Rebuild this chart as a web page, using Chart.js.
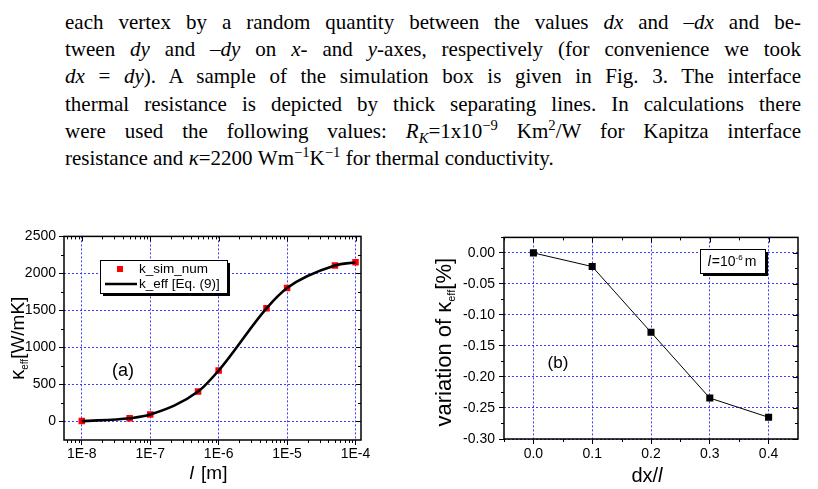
<!DOCTYPE html>
<html>
<head>
<meta charset="utf-8">
<script src="https://cdn.jsdelivr.net/npm/chart.js@4"></script>
<style>
  html, body { margin: 0; padding: 0; background: #fff; }
  body { width: 818px; height: 489px; position: relative; overflow: hidden; }
  #para { position: absolute; left: 65px; top: 9px; width: 736px;
          font-family: 'Liberation Serif', 'Times New Roman', serif; font-size: 21px;
          line-height: 27.2px; color: #000; }
  #para div { text-align: justify; text-align-last: justify; white-space: nowrap; }
  #para div.last { text-align-last: left; }
  #para sup, #para sub { font-size: 0.7em; line-height: 0; }
  .box { position: absolute; top: 225px; height: 264px; }
</style>
</head>
<body>
<div id="para">
  <div>each vertex by a random quantity between the values <i>dx</i> and –<i>dx</i> and be-</div>
  <div>tween <i>dy</i> and –<i>dy</i> on <i>x</i>- and <i>y</i>-axes, respectively (for convenience we took</div>
  <div><i>dx</i> = <i>dy</i>). A sample of the simulation box is given in Fig. 3. The interface</div>
  <div>thermal resistance is depicted by thick separating lines. In calculations there</div>
  <div>were used the following values: <i>R<sub>K</sub></i>=1x10<sup>−9</sup> Km<sup>2</sup>/W for Kapitza interface</div>
  <div class="last">resistance and <i>κ</i>=2200 Wm<sup>−1</sup>K<sup>−1</sup> for thermal conductivity.</div>
</div>
<div class="box" style="left:0;width:400px"><canvas id="chartA"></canvas></div>
<div class="box" style="left:430px;width:388px"><canvas id="chartB"></canvas></div>
<script>
'use strict';

// (a) effective conductivity vs. cell size l
const sizesA = [1e-8, 5e-8, 1e-7, 5e-7, 1e-6, 5e-6, 1e-5, 5e-5, 1e-4];
const kSimNum = [5, 44, 93, 404, 689, 1529, 1804, 2107, 2151];
const kEffEq9 = [5, 44, 93, 404, 689, 1529, 1804, 2107, 2151];
const xTicksA = [1e-8, 1e-7, 1e-6, 1e-5, 1e-4];
const xTickLabelsA = ['1E-8', '1E-7', '1E-6', '1E-5', '1E-4'];
const yTicksA = [0, 500, 1000, 1500, 2000, 2500];
const yTickLabelsA = ['0', '500', '1000', '1500', '2000', '2500'];
const seriesLabelsA = ['k_sim_num', 'k_eff [Eq. (9)]'];

// (b) variation of k_eff vs. dx/l
const dxOverL = [0.0, 0.1, 0.2, 0.3, 0.4];
const variation = [0, -0.022, -0.128, -0.234, -0.265];
const xTicksB = [0.0, 0.1, 0.2, 0.3, 0.4];
const xTickLabelsB = ['0.0', '0.1', '0.2', '0.3', '0.4'];
const yTicksB = [0, -0.05, -0.10, -0.15, -0.20, -0.25, -0.30];
const yTickLabelsB = ['0.00', '-0.05', '-0.10', '-0.15', '-0.20', '-0.25', '-0.30'];

const SANS = "'Liberation Sans', Arial, sans-serif";
const gridBlue = 'rgba(40, 40, 255, 0.9)';
const tickFont = { family: SANS, size: 14 };

Chart.defaults.font.family = SANS;
Chart.defaults.font.size = 14;
Chart.defaults.color = '#000';

// draws text pieces one after the other (for sub/superscripts)
function drawRich(ctx, parts, x, y, align) {
  let total = 0;
  parts.forEach((p) => {
    ctx.font = p.font;
    p.w = ctx.measureText(p.t).width;
    total += p.w + (p.gap || 0);
  });
  let cx = align === 'center' ? x - total / 2 : x;
  ctx.textBaseline = 'alphabetic';
  ctx.textAlign = 'left';
  parts.forEach((p) => {
    ctx.font = p.font;
    ctx.fillText(p.t, cx, y + (p.dy || 0));
    cx += p.w + (p.gap || 0);
  });
}

// Origin-like frame: box, minor ticks, mirrored ticks on top and right
function makeFrame(cfg) {
  return {
    id: 'frame' + cfg.name,
    afterDraw(chart) {
      const { ctx, chartArea: a } = chart;
      const xs = chart.scales.x;
      const ys = chart.scales.y;
      ctx.save();
      ctx.strokeStyle = '#000';
      ctx.fillStyle = '#000';
      ctx.lineWidth = 1;
      ctx.beginPath();
      cfg.xMajor.forEach((v) => {
        const px = Math.round(xs.getPixelForValue(v)) + 0.5;
        ctx.moveTo(px, a.top); ctx.lineTo(px, a.top + 5);
      });
      cfg.yMajor.forEach((v) => {
        const py = Math.round(ys.getPixelForValue(v)) + 0.5;
        ctx.moveTo(a.right, py); ctx.lineTo(a.right - 5, py);
      });
      cfg.xMinor.forEach((v) => {
        const px = Math.round(xs.getPixelForValue(v)) + 0.5;
        if (px < a.left || px > a.right) return;
        ctx.moveTo(px, a.bottom); ctx.lineTo(px, a.bottom + 3);
        ctx.moveTo(px, a.top); ctx.lineTo(px, a.top + 3);
      });
      cfg.yMinor.forEach((v) => {
        const py = Math.round(ys.getPixelForValue(v)) + 0.5;
        if (py < a.top || py > a.bottom) return;
        ctx.moveTo(a.left, py); ctx.lineTo(a.left - 3, py);
        ctx.moveTo(a.right, py); ctx.lineTo(a.right - 3, py);
      });
      ctx.stroke();
      ctx.lineWidth = 1.5;
      ctx.strokeRect(a.left, a.top, a.right - a.left, a.bottom - a.top);
      cfg.extra(ctx, chart, a);
      ctx.restore();
    },
  };
}

function shadowBox(ctx, x, y, w, h) {
  ctx.fillStyle = '#000';
  ctx.fillRect(x + 3, y + 3, w, h);
  ctx.fillStyle = '#fff';
  ctx.fillRect(x, y, w, h);
  ctx.lineWidth = 1;
  ctx.strokeStyle = '#000';
  ctx.strokeRect(x + 0.5, y + 0.5, w, h);
  ctx.fillStyle = '#000';
}

// minor tick positions
const xMinorA = [];
for (let e = -9; e <= -4; e++) {
  for (let m = 2; m <= 9; m++) xMinorA.push(m * Math.pow(10, e));
}
const yMinorA = [-250, 250, 750, 1250, 1750, 2250];
const xMinorB = [-0.05, 0.05, 0.15, 0.25, 0.35, 0.45];
const yMinorB = [0.025, -0.025, -0.075, -0.125, -0.175, -0.225, -0.275];

const frameA = makeFrame({
  name: 'A', xMajor: xTicksA, yMajor: yTicksA, xMinor: xMinorA, yMinor: yMinorA,
  extra(ctx, chart, a) {
    // y title
    ctx.save();
    ctx.translate(24, (a.top + a.bottom) / 2);
    ctx.rotate(-Math.PI / 2);
    drawRich(ctx, [
      { t: 'κ', font: '20px ' + SANS },
      { t: 'eff', font: '10px ' + SANS, dy: 4 },
      { t: '[W/mK]', font: '19px ' + SANS },
    ], 0, 0, 'center');
    ctx.restore();
    // x title
    drawRich(ctx, [
      { t: 'l', font: 'italic 19px ' + SANS, gap: 2 },
      { t: ' [m]', font: '19px ' + SANS },
    ], (a.left + a.right) / 2 - 4, 254, 'center');
    // legend
    shadowBox(ctx, 100, 35, 127, 33);
    ctx.fillStyle = 'red';
    ctx.fillRect(117, 41, 6, 6);
    ctx.strokeStyle = '#000';
    ctx.lineWidth = 2.5;
    ctx.beginPath();
    ctx.moveTo(105, 59); ctx.lineTo(137, 59);
    ctx.stroke();
    ctx.fillStyle = '#000';
    ctx.font = '13.5px ' + SANS;
    ctx.textBaseline = 'middle';
    ctx.fillText(seriesLabelsA[0], 139, 44.5);
    ctx.fillText(seriesLabelsA[1], 139, 59);
    ctx.font = '18px ' + SANS;
    ctx.textAlign = 'center';
    ctx.fillText('(a)', 123, 146);
  },
});

const frameB = makeFrame({
  name: 'B', xMajor: xTicksB, yMajor: yTicksB, xMinor: xMinorB, yMinor: yMinorB,
  extra(ctx, chart, a) {
    ctx.save();
    ctx.translate(21, (a.top + a.bottom) / 2 + 4);
    ctx.rotate(-Math.PI / 2);
    drawRich(ctx, [
      { t: 'variation of κ', font: '22px ' + SANS },
      { t: 'eff', font: '11px ' + SANS, dy: 4 },
      { t: '[%]', font: '22px ' + SANS },
    ], 0, 0, 'center');
    ctx.restore();
    drawRich(ctx, [
      { t: 'dx/', font: '20px ' + SANS },
      { t: 'l', font: 'italic 20px ' + SANS },
    ], (a.left + a.right) / 2 - 4, 257, 'center');
    shadowBox(ctx, 270, 24, 65, 24);
    drawRich(ctx, [
      { t: 'l', font: 'italic 14px ' + SANS, gap: 1 },
      { t: '=10', font: '14px ' + SANS },
      { t: '-6', font: '8px ' + SANS, dy: -6, gap: 2 },
      { t: 'm', font: '14px ' + SANS },
    ], 302, 41, 'center');
    ctx.font = '17px ' + SANS;
    ctx.textAlign = 'center';
    ctx.textBaseline = 'middle';
    ctx.fillText('(b)', 128, 138);
  },
});

function gridOpts() {
  return {
    color: gridBlue,
    lineWidth: 1,
    drawTicks: true,
    tickLength: 5,
    tickColor: '#000',
    tickWidth: 1,
  };
}

new Chart(document.getElementById('chartA'), {
  type: 'line',
  data: {
    datasets: [
      {
        label: seriesLabelsA[0],
        data: sizesA.map((x, i) => ({ x, y: kSimNum[i] })),
        showLine: false,
        pointStyle: 'rect',
        pointRadius: 4.6,
        backgroundColor: '#ff0000',
        borderColor: '#ff0000',
        borderWidth: 0,
        order: 2,
      },
      {
        label: seriesLabelsA[1],
        data: sizesA.map((x, i) => ({ x, y: kEffEq9[i] })),
        borderColor: '#000',
        borderWidth: 2.6,
        pointRadius: 0,
        cubicInterpolationMode: 'monotone',
        order: 1,
      },
    ],
  },
  options: {
    responsive: true,
    maintainAspectRatio: false,
    animation: false,
    layout: { padding: { top: 8, right: 39, left: 0, bottom: 0 } },
    scales: {
      x: {
        type: 'logarithmic',
        min: Math.pow(10, -8.26),
        max: Math.pow(10, -3.92),
        afterBuildTicks: (scale) => { scale.ticks = xTicksA.map((v) => ({ value: v })); },
        afterFit: (scale) => { scale.height = 49; },
        ticks: {
          autoSkip: false, maxRotation: 0, padding: 1, font: tickFont,
          callback: (v) => xTickLabelsA[xTicksA.indexOf(v)] || '',
        },
        grid: gridOpts(),
        border: { display: false, dash: [2, 2] },
      },
      y: {
        min: -250,
        max: 2500,
        afterBuildTicks: (scale) => { scale.ticks = yTicksA.map((v) => ({ value: v })); },
        afterFit: (scale) => { scale.width = 64; },
        ticks: {
          padding: 3, font: tickFont,
          callback: (v) => yTickLabelsA[yTicksA.indexOf(v)],
        },
        grid: gridOpts(),
        border: { display: false, dash: [2, 2] },
      },
    },
    plugins: { legend: { display: false }, tooltip: { enabled: false } },
  },
  plugins: [frameA],
});

new Chart(document.getElementById('chartB'), {
  type: 'line',
  data: {
    datasets: [
      {
        label: 'variation',
        data: dxOverL.map((x, i) => ({ x, y: variation[i] })),
        borderColor: '#000',
        borderWidth: 1,
        backgroundColor: '#000',
        pointStyle: 'rect',
        pointRadius: 5,
        pointBorderWidth: 0,
      },
    ],
  },
  options: {
    responsive: true,
    maintainAspectRatio: false,
    animation: false,
    layout: { padding: { top: 8, right: 20, left: 0, bottom: 0 } },
    scales: {
      x: {
        type: 'linear',
        min: -0.05,
        max: 0.45,
        afterBuildTicks: (scale) => { scale.ticks = xTicksB.map((v) => ({ value: v })); },
        afterFit: (scale) => { scale.height = 50; },
        ticks: {
          padding: 2, maxRotation: 0, autoSkip: false, font: tickFont,
          callback: (v) => xTickLabelsB[xTicksB.indexOf(v)],
        },
        grid: gridOpts(),
        border: { display: false, dash: [2, 2] },
      },
      y: {
        min: -0.30,
        max: 0.025,
        afterBuildTicks: (scale) => { scale.ticks = yTicksB.map((v) => ({ value: v })); },
        afterFit: (scale) => { scale.width = 74; },
        ticks: {
          padding: 4, font: tickFont,
          callback: (v) => yTickLabelsB[yTicksB.indexOf(v)],
        },
        grid: gridOpts(),
        border: { display: false, dash: [2, 2] },
      },
    },
    plugins: { legend: { display: false }, tooltip: { enabled: false } },
  },
  plugins: [frameB],
});
</script>
</body>
</html>
